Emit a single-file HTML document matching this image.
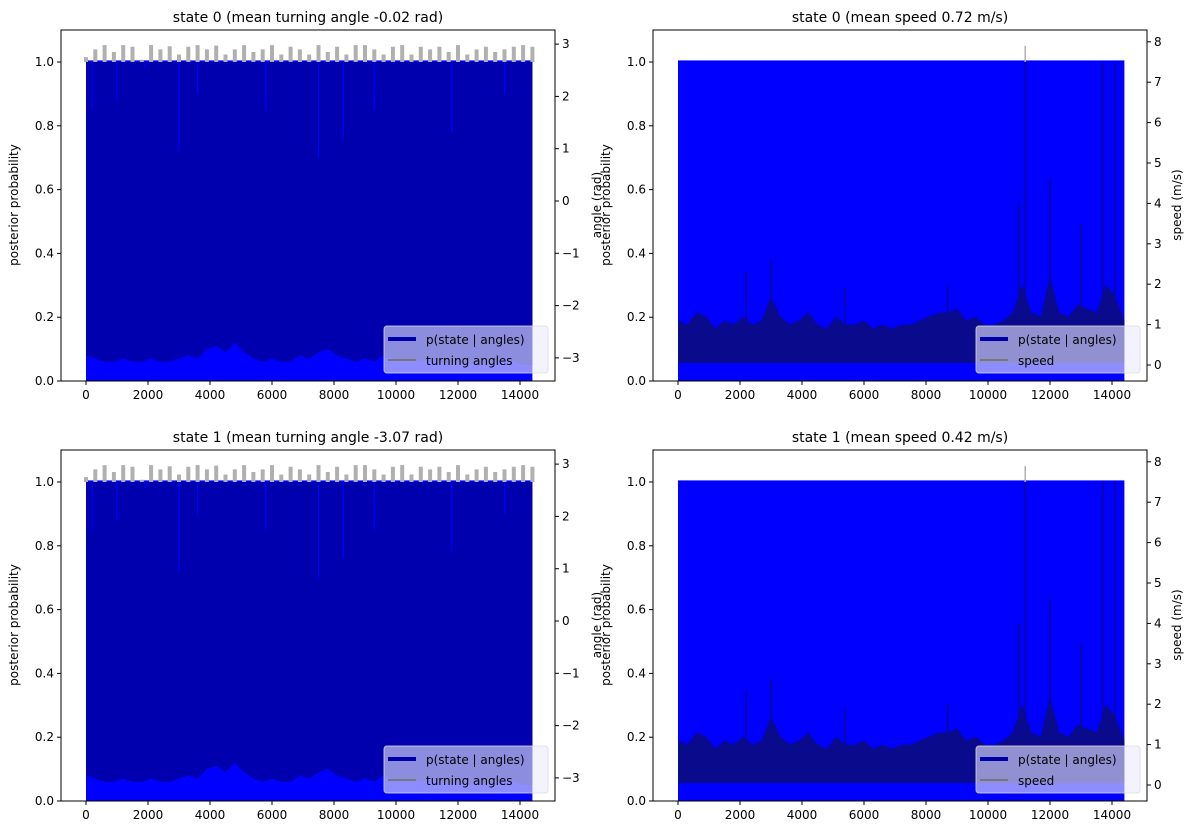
<!DOCTYPE html>
<html><head><meta charset="utf-8"><style>
body{margin:0;background:#fff;font-family:"Liberation Sans","DejaVu Sans",sans-serif}
svg text{font-family:"DejaVu Sans","Liberation Sans",sans-serif;fill:#000}
</style></head><body>
<svg id="c" width="1194" height="834" xmlns="http://www.w3.org/2000/svg"></svg>
<script>
const xTicks=[0,2000,4000,6000,8000,10000,12000,14000];
const pTicks=[0,0.2,0.4,0.6,0.8,1.0];
const angTicks=[-3,-2,-1,0,1,2,3];
const spdTicks=[0,1,2,3,4,5,6,7,8];
const sampleT=[0,300,600,900,1200,1500,1800,2100,2400,2700,3000,3300,3600,3900,4200,4500,4800,5100,5400,5700,6000,6300,6600,6900,7200,7500,7800,8100,8400,8700,9000,9300,9600,9900,10200,10500,10800,11100,11400,11700,12000,12300,12600,12900,13200,13500,13800,14100,14400];
const probLow=[0.08,0.07,0.06,0.06,0.07,0.06,0.06,0.07,0.06,0.06,0.07,0.08,0.07,0.10,0.11,0.09,0.12,0.09,0.07,0.06,0.07,0.06,0.06,0.08,0.07,0.09,0.10,0.08,0.07,0.06,0.07,0.06,0.08,0.07,0.06,0.07,0.06,0.07,0.06,0.05,0.06,0.05,0.06,0.05,0.06,0.07,0.06,0.05,0.05];
const angleTop=[2.75,2.9,2.98,2.85,2.98,2.95,2.7,2.98,2.9,2.96,2.8,2.95,2.98,2.9,2.97,2.8,2.9,2.98,2.85,2.9,2.98,2.8,2.95,2.9,2.8,2.98,2.85,2.95,2.8,2.98,2.98,2.9,2.8,2.95,2.98,2.8,2.95,2.9,2.95,2.85,2.98,2.8,2.9,2.95,2.85,2.9,2.95,2.98,2.95];
const speedUp=[1.1,1.0,1.3,1.2,0.9,1.1,1.0,1.2,1.0,1.1,1.7,1.2,1.0,1.1,1.3,1.0,0.9,1.2,1.0,1.0,1.1,0.9,1.0,0.9,1.0,1.0,1.1,1.2,1.3,1.3,1.4,1.1,1.2,1.0,1.0,1.1,1.3,2.0,1.3,1.2,2.2,1.3,1.2,1.5,1.4,1.3,2.0,1.7,1.1];
const spikeT=[2200,3000,5400,8700,11000,11200,12000,13000,13700,14100];
const spikeV=[2.3,2.6,1.9,2.0,4.0,7.9,4.6,3.5,7.5,7.5];
const dipT=[200,1000,1900,3000,3600,5800,7500,8300,9300,11800,13500];
const dipP=[0.85,0.88,0.98,0.72,0.9,0.85,0.7,0.76,0.85,0.78,0.9];

const NS='http://www.w3.org/2000/svg';
const svg=document.getElementById('c');
function el(tag,attrs,parent,text){const e=document.createElementNS(NS,tag);for(const k in attrs)e.setAttribute(k,attrs[k]);if(text!==undefined)e.textContent=text;(parent||svg).appendChild(e);return e;}

function panel(L,T,kind,title,legend2,px){
  const R=L+494,B=T+351;
  const g=el('g',{});
  
  
  const X=v=>L+25+v*0.031;
  const Y=p=>B-319*p;
  const YA=a=>(T+171)-52.3*a;
  const YS=s=>(T+335)-40.4*s;
  const fill=el('rect',{x:X(0),y:Y(1.005),width:X(14400)-X(0),height:Y(0)-Y(1.005),fill:'#0000ff'},g);
  
  
  if(kind==='angle'){
    let d='M'+X(0)+' '+Y(1.0);
    sampleT.forEach((t,i)=>{d+=' L'+X(t)+' '+Y(1.0);});
    for(let i=sampleT.length-1;i>=0;i--)d+=' L'+X(sampleT[i])+' '+Y(probLow[i]);
    const a=el('path',{d:d+'Z',fill:'#0000ae'},g);
    
    
    dipT.forEach((t,i)=>{const l=el('line',{x1:X(t),x2:X(t),y1:Y(1),y2:Y(dipP[i]),stroke:'#0000ff','stroke-width':1.2},g);
      
      });
    let gd='';
    sampleT.forEach((t,i)=>{const w=4;const top=YA(angleTop[i]);if(top<Y(1.0))gd+='M'+(X(t)-w/2)+' '+Y(1.0)+' V'+top+' H'+(X(t)+w/2)+' V'+Y(1.0)+'Z ';});
    const ga=el('path',{d:gd,fill:'#b0b0b0'},g);
    
    
  } else {
    let d='M'+X(0)+' '+YS(0.05);
    sampleT.forEach((t,i)=>{d+=' L'+X(t)+' '+YS(speedUp[i]);});
    d+=' L'+X(14400)+' '+YS(0.05)+'Z';
    const a=el('path',{d:d,fill:'#0a0a8c'},g);
    
    
    spikeT.forEach((t,i)=>{const top=YS(spikeV[i]);
      const l=el('line',{x1:X(t),x2:X(t),y1:YS(0.5),y2:Math.max(top,Y(1.0)),stroke:'#0a0a8c','stroke-width':1.5},g);
      
      
      if(top<Y(1.0)){const l2=el('line',{x1:X(t),x2:X(t),y1:Y(1.0),y2:top,stroke:'#b0b0b0','stroke-width':1.5},g);
        
        }});
  }
  el('rect',{x:L,y:T,width:494,height:351,fill:'none',stroke:'#000','stroke-width':1},g);
  xTicks.forEach(v=>{el('line',{x1:X(v),x2:X(v),y1:B,y2:B+4,stroke:'#000'},g);
    const t=el('text',{x:X(v),y:B+18,'font-size':12,'text-anchor':'middle'},g,String(v));
    });
  pTicks.forEach(v=>{el('line',{x1:L-4,x2:L,y1:Y(v),y2:Y(v),stroke:'#000'},g);
    const t=el('text',{x:L-7,y:Y(v)+4,'font-size':12,'text-anchor':'end'},g,v.toFixed(1));
    });
  const rt=kind==='angle'?angTicks:spdTicks, RY=kind==='angle'?YA:YS;
  rt.forEach(v=>{el('line',{x1:R,x2:R+4,y1:RY(v),y2:RY(v),stroke:'#000'},g);
    const t=el('text',{x:R+7,y:RY(v)+4,'font-size':12},g,v<0?'\u2212'+Math.abs(v):String(v));
    });
  const tt=el('text',{x:L+247,y:T-8,'font-size':14,'text-anchor':'middle'},g,title);
  
  const yl=el('text',{x:0,y:0,'font-size':12,'text-anchor':'middle',transform:`translate(${L-43},${T+175}) rotate(-90)`},g,'posterior probability');
  
  const rl=el('text',{x:0,y:0,'font-size':12,'text-anchor':'middle',transform:`translate(${kind==='angle'?R+46:R+34},${T+175}) rotate(-90)`},g,kind==='angle'?'angle (rad)':'speed (m/s)');
  
  const lg=el('g',{},g);
  
  const lx=R-171,ly=T+296;
  el('rect',{x:lx,y:ly,width:164,height:47,rx:3,fill:'rgba(235,235,255,0.6)',stroke:'rgba(220,220,220,0.8)'},lg);
  el('line',{x1:lx+4,x2:lx+32,y1:ly+13,y2:ly+13,stroke:'#0000aa','stroke-width':4},lg);
  el('line',{x1:lx+4,x2:lx+32,y1:ly+34,y2:ly+34,stroke:'#777','stroke-width':2},lg);
  const e1=el('text',{x:lx+42,y:ly+18,'font-size':12},lg,'p(state | angles)');
  
  const e2=el('text',{x:lx+42,y:ly+39,'font-size':12},lg,legend2);
  
}
panel(61,30,'angle','state 0 (mean turning angle -0.02 rad)','turning angles','top-left');
panel(653,30,'speed','state 0 (mean speed 0.72 m/s)','speed','top-right');
panel(61,450,'angle','state 1 (mean turning angle -3.07 rad)','turning angles','bottom-left');
panel(653,450,'speed','state 1 (mean speed 0.42 m/s)','speed','bottom-right');
</script>
</body></html>
